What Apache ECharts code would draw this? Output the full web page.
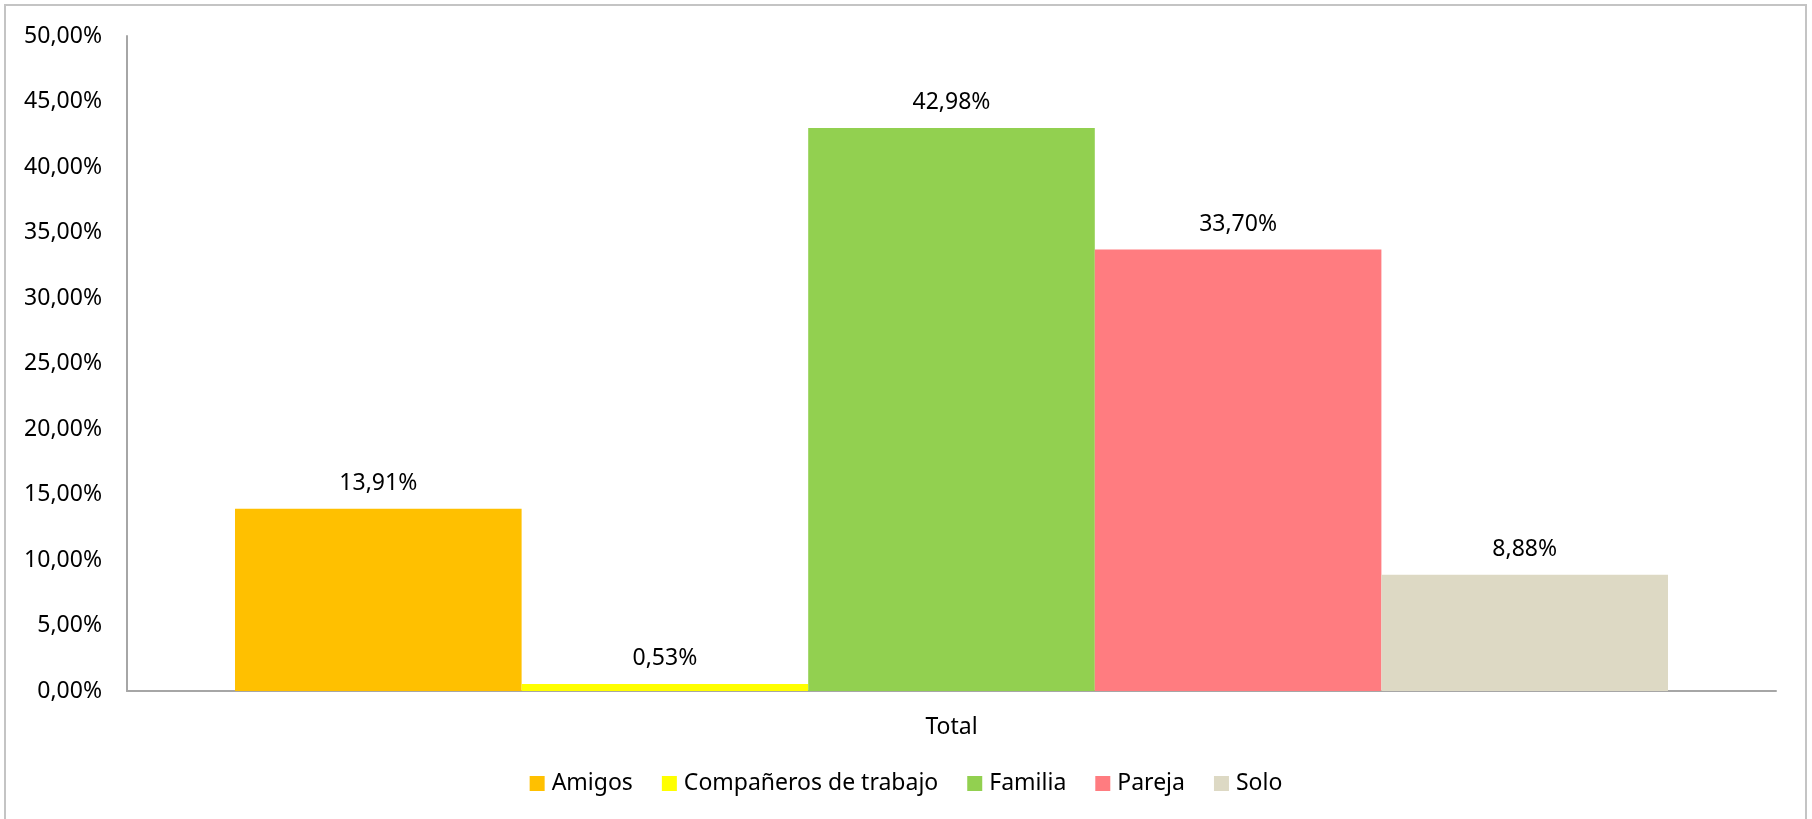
<!DOCTYPE html>
<html>
<head>
<meta charset="utf-8">
<script src="https://cdn.jsdelivr.net/npm/echarts@6/dist/echarts.min.js"></script>
<style>
html,body{margin:0;padding:0;background:#fff;}
#chart{width:1812px;height:819px;}
</style>
</head>
<body>
<div id="chart"></div>
<script>
const categories = ['Total'];
const seriesNames = ['Amigos', 'Compañeros de trabajo', 'Familia', 'Pareja', 'Solo'];
const seriesValues = [13.91, 0.53, 42.98, 33.70, 8.88];
const seriesColors = ['#FFC000', '#FFFF00', '#92D050', '#FF7C80', '#DDD9C4'];
const yTicks = { min: 0, max: 50, interval: 5 };

const FONT = 'Noto Sans';
const fmt = v => v.toFixed(2).replace('.', ',') + '%';

const chart = echarts.init(document.getElementById('chart'), null, {renderer: 'canvas'});
const series = seriesNames.map((name, i) => ({
  name: name,
  type: 'bar',
  data: [seriesValues[i]],
  barGap: '0%',
  barCategoryGap: '13.1%',
  itemStyle: { color: seriesColors[i] },
  label: {
    show: true,
    position: 'top',
    distance: 14,
    formatter: p => fmt(p.value),
    color: '#000',
    fontFamily: FONT,
    fontSize: 23
  }
}));

chart.setOption({
  animation: false,
  backgroundColor: '#fff',
  graphic: [{
    type: 'rect',
    shape: { x: 5, y: 5, width: 1801, height: 830 },
    style: { fill: 'none', stroke: '#c4c4c4', lineWidth: 2 },
    silent: true,
    z: 100
  }],
  grid: { left: 127, right: 36, top: 36, bottom: 128, containLabel: false },
  legend: {
    data: seriesNames,
    bottom: 19,
    left: 'center',
    icon: 'rect',
    itemWidth: 15,
    itemHeight: 15,
    itemGap: 29,
    textStyle: { fontFamily: FONT, fontSize: 23, color: '#000', padding: [0,0,0,2] }
  },
  xAxis: {
    type: 'category',
    data: categories,
    axisLine: { show: true, lineStyle: { color: '#a6a6a6', width: 2 } },
    axisTick: { show: false },
    axisLabel: { fontFamily: FONT, fontSize: 23, color: '#000', margin: 25 },
    splitLine: { show: false }
  },
  yAxis: {
    type: 'value',
    min: yTicks.min,
    max: yTicks.max,
    interval: yTicks.interval,
    axisLine: { show: true, lineStyle: { color: '#a6a6a6', width: 2 } },
    axisTick: { show: false },
    splitLine: { show: false },
    axisLabel: { fontFamily: FONT, fontSize: 23, color: '#000', margin: 25, formatter: v => fmt(v) }
  },
  series: series
});
</script>
</body>
</html>
